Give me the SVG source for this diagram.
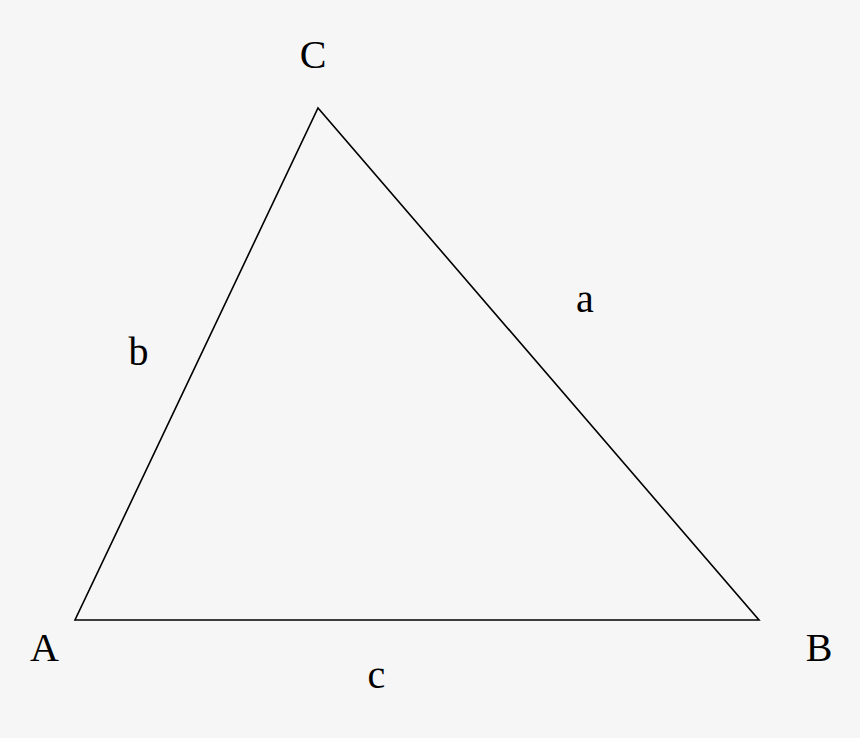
<svg xmlns="http://www.w3.org/2000/svg" width="860" height="738" viewBox="0 0 860 738">
<style>
.lbl{font-family:"Liberation Serif","Times New Roman",serif;font-size:40px;fill:#000;text-anchor:middle}
.edge{fill:none;stroke:#000;stroke-width:1.6;stroke-linejoin:miter}
</style>
<rect width="860" height="738" fill="#f6f6f6"/>
<g id="connectors">
<polygon class="edge" points="75,620 759,620 318,108"/>
</g>
<g id="vertex-A"><text class="lbl" x="44.5" y="661">A</text></g>
<g id="vertex-B"><text class="lbl" x="819" y="661">B</text></g>
<g id="vertex-C"><text class="lbl" x="313" y="68">C</text></g>
<g id="side-a"><text class="lbl" x="585" y="312">a</text></g>
<g id="side-b"><text class="lbl" x="138.5" y="365">b</text></g>
<g id="side-c"><text class="lbl" x="376.5" y="688">c</text></g>
</svg>
